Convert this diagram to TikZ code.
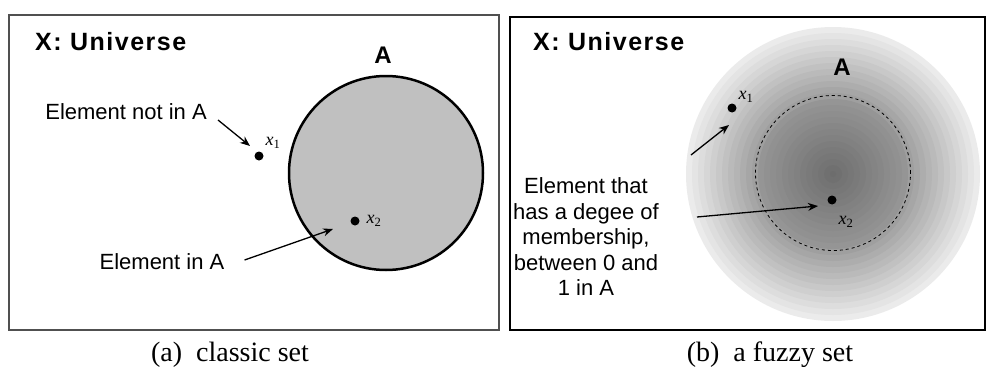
\documentclass[tikz,border=0pt]{standalone}
\usepackage{fontspec}
\setmainfont{Liberation Serif}
\setsansfont{Liberation Sans}
\usetikzlibrary{positioning, arrows.meta}
\definecolor{setgray}{HTML}{C0C0C0}
\definecolor{framegray}{HTML}{505050}

\begin{document}
\begin{tikzpicture}[
    x=1pt, y=-1pt,
    every node/.style={font=\sffamily\fontsize{22}{25.5}\selectfont, inner sep=0pt},
    title/.style={font=\sffamily\bfseries\fontsize{25}{25}\selectfont\addfontfeature{LetterSpace=6}},
    setname/.style={font=\sffamily\bfseries\fontsize{24}{24}\selectfont},
    elem/.style={circle, fill=black, minimum size=9pt},
    var/.style={font=\rmfamily\fontsize{18}{18}\selectfont},
    caption/.style={font=\rmfamily\fontsize{28}{28}\selectfont},
    arr/.style={-{Stealth[length=10pt, width=8pt]}, line width=1.3pt},
  ]
  \useasboundingbox (0,0) rectangle (986,367);

  \coordinate (fuzzy) at (833,174);
  \foreach \r in {147,141,...,3}{
    \pgfmathsetmacro\tone{\r>78 ? 8+31*(147-\r)/69 : 41+17*(78-\r)/78}
    \fill[black!\tone] (fuzzy) circle (\r pt);
  }

  \draw[framegray, line width=2pt] (9,15) rectangle (499,330);
  \draw[black, line width=2pt] (510,17) rectangle (985,330);

  \node[title, anchor=west] (univL) at (35,42) {X: Universe};
  \node[setname] (nameA) at (383,55) {A};
  \node[draw, circle, fill=setgray, line width=2.5pt, minimum size=194pt] (setA) at (386,173) {};
  \node[elem] (p1) at (259,156) {};
  \node[elem] (p2) at (355,221) {};
  \node[var] (v1) at (273,143) {\textit{x}\textsubscript{1}};
  \node[var] (v2) at (374,221) {\textit{x}\textsubscript{2}};
  \node[anchor=east] (notin) at (207,112) {Element not in A};
  \node (inA) at (162,262) {Element in A};
  \draw[arr] ([shift={(11,8)}]notin.east) -- ([shift={(-9,-10)}]p1.center);
  \draw[arr] ([shift={(20,-2)}]inA.east) -- ([shift={(-22,8)}]p2.center);
  \node[caption] (capA) at (230,355) {(a)\ \ classic set};

  \node[title, anchor=west] (univR) at (533,42) {X: Universe};
  \node[setname] (nameB) at (842,67) {A};
  \node[draw, circle, dashed, line width=0.8pt, minimum size=155pt] (setB) at (833,173) {};
  \node[elem] (q1) at (732,108) {};
  \node[elem] (q2) at (832,200) {};
  \node[var] (w1) at (746,97) {\textit{x}\textsubscript{1}};
  \node[var] (w2) at (846,222) {\textit{x}\textsubscript{2}};
  \node[align=center] (member) at (586,237)
    {Element that\\has a degee of\\membership,\\between 0 and\\1 in A};
  \draw[arr] ([shift={(32,-82)}]member.east) -- ([shift={(-3,17)}]q1.center);
  \draw[arr] ([shift={(38,-20)}]member.east) -- ([shift={(-14,6)}]q2.center);
  \node[caption] (capB) at (770,355) {(b)\ \ a fuzzy set};
\end{tikzpicture}
\end{document}
